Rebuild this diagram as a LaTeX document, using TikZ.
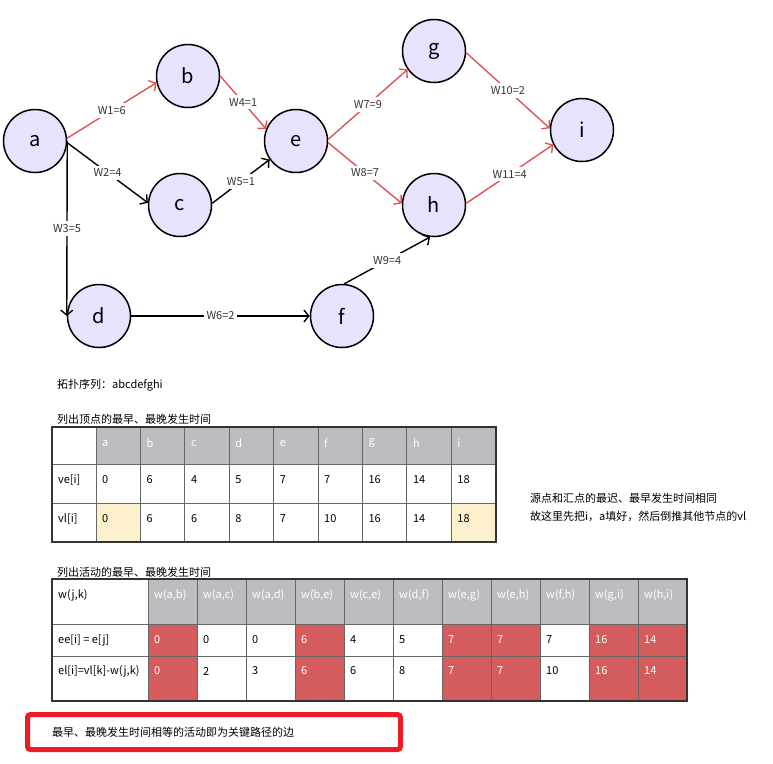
\documentclass[tikz,border=0pt]{standalone}
\usepackage{fontspec}
\setmainfont{Noto Sans CJK SC}
\usetikzlibrary{arrows.meta}

\definecolor{vfill}{RGB}{232,226,255}
\definecolor{critred}{RGB}{222,84,84}
\definecolor{hdrgray}{RGB}{187,189,192}
\definecolor{hitred}{RGB}{212,92,92}
\definecolor{markyel}{RGB}{253,240,205}
\definecolor{boxred}{RGB}{237,28,36}

\begin{document}
\begin{tikzpicture}[x=1pt, y=-1pt,
  vtx/.style={circle, draw, line width=1.5pt, fill=vfill, minimum size=63pt, inner sep=0pt, font=\fontsize{20}{24}\selectfont},
  lnk/.style={line width=1.4pt, -{Straight Barb[length=5pt,width=12pt]}},
  crit/.style={lnk, draw=critred},
  wlab/.style={fill=white, inner sep=3pt, text=black!80, font=\fontsize{11}{13}\selectfont},
  txt/.style={anchor=west, inner sep=0pt, font=\fontsize{11}{13}\selectfont},
  tline/.style={draw=black!60, line width=1pt}]
\useasboundingbox (0,0) rectangle (773,763);

% 頂点(座標配置)
\node[vtx] (a) at (35,141) {a};
\node[vtx] (b) at (188,76) {b};
\node[vtx] (c) at (180,205) {c};
\node[vtx] (d) at (99,316) {d};
\node[vtx] (e) at (296,141) {e};
\node[vtx] (f) at (342,316) {f};
\node[vtx] (g) at (434,51) {g};
\node[vtx] (h) at (434,205) {h};
\node[vtx] (i) at (582,130) {i};

% 辺
\draw[crit] (a.5) -- node[wlab] {W1=6} (b.192);
\draw[lnk] (a.357) -- node[wlab] {W2=4} (c.176);
\draw[lnk] (a.east) -- node[wlab] {W3=5} (d.west);
\draw[crit] (b.east) -- node[wlab] {W4=1} (e.158);
\draw[lnk] (c.3) -- node[wlab] {W5=1} (e.215);
\draw[lnk] (d.east) -- node[wlab] {W6=2} (f.west);
\draw[crit] (e.3) -- node[wlab] {W7=9} (g.215);
\draw[crit] (e.357) -- node[wlab] {W8=7} (h.177);
\draw[lnk] (f.86) -- node[wlab] {W9=4} (h.263);
\draw[crit] (g.357) -- node[wlab] {W10=2} (i.177);
\draw[crit] (h.3) -- node[wlab] {W11=4} (i.207);

% 注記
\node[txt] (topo) at (57,385) {拓扑序列：abcdefghi};
\node[txt] (cap1) at (57,419) {列出顶点的最早、最晚发生时间};
\node[txt] (note1) at (530,498) {源点和汇点的最迟、最早发生时间相同};
\node[txt] (note2) at (530,516) {故这里先把i，a填好，然后倒推其他节点的vl};

% 表1
\fill[hdrgray] (96,427) rectangle (496,464);
\fill[markyel] (96,503) rectangle ++(44.4,39);
\fill[markyel] (451.6,503) rectangle ++(44.4,39);
\foreach \y in {464,503} \draw[tline] (52,\y) -- (496,\y);
\foreach \k in {0,...,8} \draw[tline] (96+44.4*\k,427) -- ++(0,115);
\draw[tline, draw=black!80, line width=1.3pt] (52,427) rectangle (496,542);
\node[txt] (ve) at (58,480) {ve[i]};
\node[txt] (vl) at (58,519) {vl[i]};
\foreach \v [count=\k] in {a,b,c,d,e,f,g,h,i}
  \node[txt, text=white] (v-\v) at (102+44.4*\k-44.4,443) {\v};
\foreach \v [count=\k] in {0,6,4,5,7,7,16,14,18}
  \node[txt] (ve-\k) at (102+44.4*\k-44.4,480) {\v};
\foreach \v [count=\k] in {0,6,6,8,7,10,16,14,18}
  \node[txt] (vl-\k) at (102+44.4*\k-44.4,519) {\v};

% 表2
\node[txt] (cap2) at (57,572) {列出活动的最早、最晚发生时间};
\fill[hdrgray] (148,579) rectangle (687,624);
\foreach \k in {1,4,7,8,10,11} \fill[hitred] (148+49*\k-49,624) rectangle ++(49,77);
\foreach \y in {624,656} \draw[tline] (52,\y) -- (687,\y);
\foreach \k in {0,...,10} \draw[tline] (148+49*\k,579) -- ++(0,122);
\draw[tline, draw=black!80, line width=1.3pt] (52,579) rectangle (687,701);
\node[txt] (wjk) at (58,595) {w(j,k)};
\node[txt] (ee) at (58,640) {ee[i] = e[j]};
\node[txt] (el) at (58,671) {el[i]=vl[k]-w(j,k)};
\foreach \v [count=\k] in {{w(a,b)},{w(a,c)},{w(a,d)},{w(b,e)},{w(c,e)},{w(d,f)},{w(e,g)},{w(e,h)},{w(f,h)},{w(g,i)},{w(h,i)}}
  \node[txt, text=white] (w-\k) at (154+49*\k-49,595) {\v};
\foreach \v/\c [count=\k] in {0/white,0/black,0/black,6/white,4/black,5/black,7/white,7/white,7/black,16/white,14/white}
  \node[txt, text=\c] (ee-\k) at (154+49*\k-49,640) {\v};
\foreach \v/\c [count=\k] in {0/white,2/black,3/black,6/white,6/black,8/black,7/white,7/white,10/black,16/white,14/white}
  \node[txt, text=\c] (el-\k) at (154+49*\k-49,671) {\v};

% 結論
\draw[boxred, line width=5pt, rounded corners=3pt] (27.5,714.5) rectangle (400.5,749.5);
\node[txt] (concl) at (52,732) {最早、最晚发生时间相等的活动即为关键路径的边};
\end{tikzpicture}
\end{document}
